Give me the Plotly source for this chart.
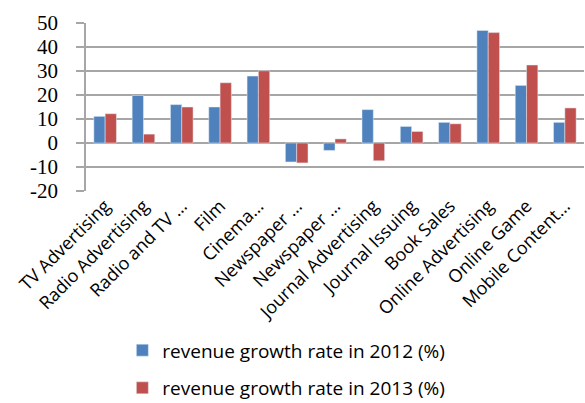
import plotly.graph_objects as go

# Category labels (as shown on the axis) and growth rates per year
categories = [
    "TV Advertising", "Radio Advertising", "Radio and TV …", "Film", "Cinema…",
    "Newspaper …", "Newspaper …", "Journal Advertising", "Journal Issuing",
    "Book Sales", "Online Advertising", "Online Game", "Mobile Content…",
]
growth_2012 = [11.1, 19.8, 16.0, 15.0, 27.9, -7.9, -3.1, 13.9, 6.9, 8.6, 46.9, 24.0, 8.6]
growth_2013 = [12.2, 3.7, 15.0, 25.1, 30.1, -8.3, 1.7, -7.4, 4.8, 8.0, 46.0, 32.5, 14.6]
y_ticks = [-20, -10, 0, 10, 20, 30, 40, 50]
y_tick_text = ["-20", "-10", "0", "10", "20", "30", "40", "50"]

positions = list(range(len(categories)))
BLUE = "#4F81BD"
RED = "#C0504D"
GRID = "#a6a6a6"
SANS = "Open Sans"
SERIF = "Times New Roman, Liberation Serif, serif"

fig = go.Figure()
fig.add_trace(go.Bar(x=positions, y=growth_2012, name="revenue growth rate in 2012 (%)",
                     marker_color=BLUE, legendgroup="a"))
fig.add_trace(go.Bar(x=positions, y=growth_2013, name="revenue growth rate in 2013 (%)",
                     marker_color=RED, legendgroup="b"))

y_min, y_max = y_ticks[0], y_ticks[-1]

fig.update_layout(
    width=585, height=403,
    margin=dict(l=86, r=1, t=23, b=212, autoexpand=False),
    paper_bgcolor="white", plot_bgcolor="white",
    barmode="group", bargap=0.41, bargroupgap=0,
    showlegend=True,
    legend=dict(orientation="v", x=0.073, xanchor="left", y=-0.835, yanchor="top",
                font=dict(family=SANS, size=19, color="#000"),
                tracegroupgap=10, itemwidth=30),
    xaxis=dict(type="category", tickmode="array", tickvals=positions, ticktext=categories,
               tickangle=-45, tickfont=dict(family=SANS, size=18, color="#000"),
               showgrid=False, ticks="", showline=False, zeroline=False, automargin=False,
               range=[-0.5, len(categories) - 0.5]),
    # category axis drawn along the zero line, with boundary tick marks
    xaxis2=dict(type="category", matches="x", overlaying="x", anchor="free",
                position=(0 - y_min) / (y_max - y_min), showticklabels=False,
                tickmode="array", tickvals=positions, tickson="boundaries",
                ticks="outside", ticklen=6, tickcolor=GRID, tickwidth=1.5,
                showline=True, linecolor=GRID, linewidth=1.5, showgrid=False, zeroline=False),
    yaxis=dict(range=[y_min, y_max], tickmode="array", tickvals=y_ticks, ticktext=y_tick_text,
               showgrid=True, gridcolor=GRID, gridwidth=1.5, zeroline=False,
               showline=True, linecolor=GRID, linewidth=1.5, automargin=False,
               ticks="outside", ticklen=8, tickcolor=GRID, tickwidth=1.5,
               ticklabelstandoff=14,
               tickfont=dict(family=SERIF, size=21, color="#000")),
)

fig.write_html("out.html")
